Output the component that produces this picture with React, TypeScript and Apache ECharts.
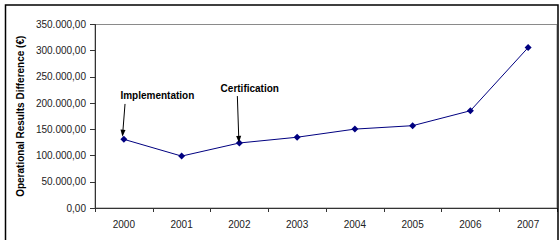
import React, { useEffect, useRef } from "react";
import * as echarts from "echarts";

const years = ["2000", "2001", "2002", "2003", "2004", "2005", "2006", "2007"];
const results = [131000, 99000, 124000, 135000, 150500, 157000, 185500, 306000];
const yTicks = { min: 0, max: 350000, interval: 50000 };
// annotations in data space (x as fractional category index)
const annotationLabels = [
  { name: "Implementation", x: 0.58, y: 214000 },
  { name: "Certification", x: 2.18, y: 228500 },
];
const annotationArrows = [
  { from: [0.02, 198500], to: [-0.02, 142500] },
  { from: [1.965, 213500], to: [1.99, 131000] },
];

const FONT = "'Liberation Sans', Arial, sans-serif";

function fmt(v: number): string {
  const s = Math.round(v).toString();
  const withDots = s.replace(/\B(?=(\d{3})+(?!\d))/g, ".");
  return withDots + ",00";
}

export default function App() {
  const ref = useRef<HTMLDivElement>(null);
  useEffect(() => {
    if (!ref.current) return;
    const chart = echarts.init(ref.current, null, { renderer: "svg" });
    chart.setOption({
      animation: false,
      backgroundColor: "#ffffff",
      textStyle: { fontFamily: FONT },
      graphic: [
        {
          type: "rect",
          shape: { x: 5.5, y: 5, width: 552.5, height: 300 },
          style: { fill: "none", stroke: "#000", lineWidth: 1.5 },
          silent: true,
          z: 100,
        },
      ],
      grid: {
        left: 95,
        top: 24.5,
        right: 2,
        bottom: 32,
        show: true,
        borderColor: "#8a8a8a",
        borderWidth: 1,
        containLabel: false,
      },
      xAxis: [
        {
          type: "category",
          data: years,
          boundaryGap: true,
          axisLine: { show: true, onZero: false, lineStyle: { color: "#333", width: 1 } },
          axisTick: { show: true, alignWithLabel: false, length: 4, lineStyle: { color: "#333" } },
          axisLabel: { color: "#222", fontSize: 10, fontFamily: FONT, margin: 11, interval: 0 },
          splitLine: { show: false },
        },
        {
          type: "value",
          min: -0.5,
          max: 7.5,
          show: false,
          position: "top",
          axisLine: { show: false, onZero: false },
          splitLine: { show: false },
        },
      ],
      yAxis: {
        type: "value",
        min: yTicks.min,
        max: yTicks.max,
        interval: yTicks.interval,
        name: "Operational Results Difference (€)",
        nameLocation: "middle",
        nameGap: 57,
        nameTextStyle: { fontSize: 10, fontWeight: "bold", color: "#000", fontFamily: FONT },
        axisLine: { show: true, onZero: false, lineStyle: { color: "#333", width: 1 } },
        axisTick: { show: true, length: 5, lineStyle: { color: "#333" } },
        axisLabel: { color: "#222", fontSize: 10, fontFamily: FONT, margin: 9, formatter: (v: number) => fmt(v) },
        splitLine: { show: false },
      },
      series: [
        {
          type: "line",
          data: results,
          xAxisIndex: 0,
          symbol: "diamond",
          symbolSize: 7,
          itemStyle: { color: "#000080" },
          lineStyle: { color: "#000080", width: 1 },
          z: 3,
        },
        {
          type: "scatter",
          xAxisIndex: 1,
          data: [],
          silent: true,
          markLine: {
            silent: true,
            symbol: ["none", "triangle"],
            symbolSize: [5, 7],
            label: { show: false },
            lineStyle: { color: "#000", width: 1, type: "solid" },
            data: annotationArrows.map((a) => [
              { coord: a.from },
              { coord: a.to },
            ]),
          },
          markPoint: {
            silent: true,
            symbol: "circle",
            symbolSize: 1,
            itemStyle: { color: "rgba(0,0,0,0)" },
            label: {
              show: true,
              position: "inside",
              formatter: "{b}",
              color: "#000",
              fontWeight: "bold",
              fontSize: 10,
              fontFamily: FONT,
            },
            data: annotationLabels.map((l) => ({ name: l.name, coord: [l.x, l.y] })),
          },
        },
      ],
    });
    return () => chart.dispose();
  }, []);
  return (
    <div
      ref={ref}
      style={{ position: "fixed", left: 0, top: 0, width: 559, height: 240 }}
    />
  );
}
